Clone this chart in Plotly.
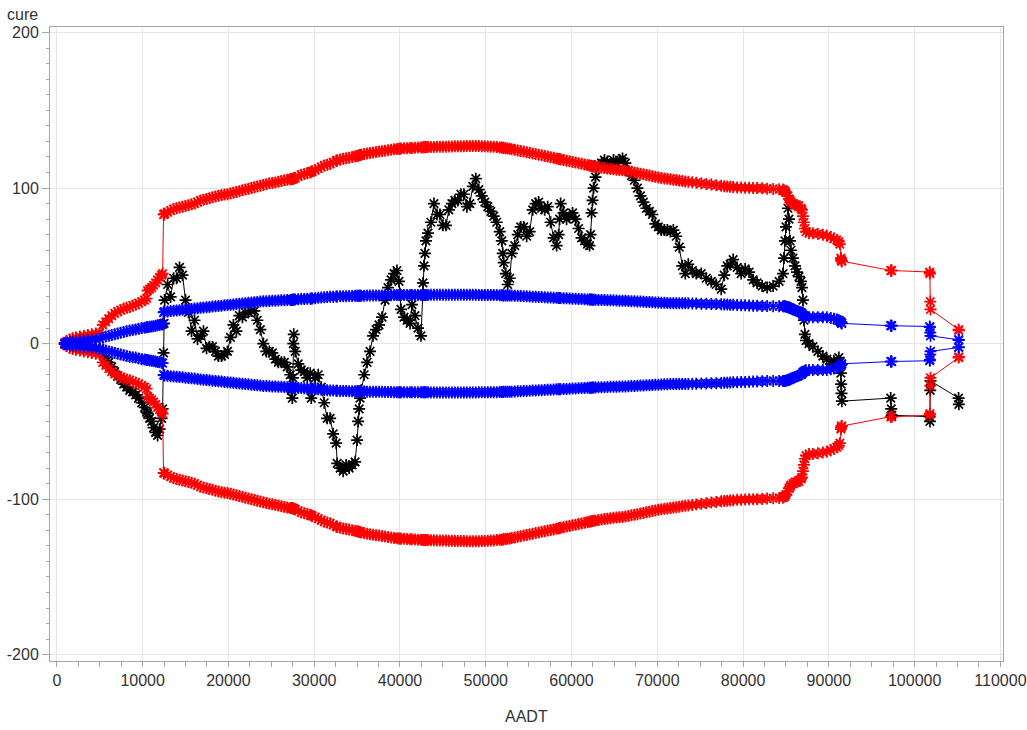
import plotly.graph_objects as go

# Site AADT values (sorted), cumulative residuals and the two limit pairs at each site
aadt = [
    930, 1160, 1510, 1860, 2210, 2670, 3140, 3600, 4070, 4530,
    5000, 5350, 5700, 6050, 6400, 6740, 7090, 7440, 7790, 8140,
    8490, 8840, 9190, 9530, 9880, 10230, 10470, 10580, 10810, 11050,
    11280, 11510, 11740, 11980, 12210, 12330,
    12440, 12500,
    12560, 12910, 13260, 13610, 13960, 14300, 14650, 15000, 15350, 15700,
    16050, 16400, 16750, 17090, 17450, 17790, 18140, 18490, 18840, 19190,
    19540, 19890, 20240, 20580, 20930, 21280, 21630, 21980, 22330, 22680,
    23030, 23370, 23720, 24070, 24420, 24770, 25120, 25470, 25820, 26170,
    26520, 26860, 27210, 27330, 27450, 27510, 27560, 27620, 27790, 28140,
    28490, 28840, 29190, 29540, 29660, 29770, 30120, 30470, 30820, 31170,
    31510, 31860, 32210, 32560, 32680, 33030, 33380, 33720, 34070, 34420,
    34770, 35000, 35120, 35240, 35350, 35470, 35820, 36160, 36510, 36860,
    37210, 37560, 37910, 38260, 38610, 38960, 39310, 39650, 39890, 40000,
    40120, 40470, 40820, 41170, 41400, 41750, 42100, 42450, 42680, 42800,
    42910, 43030, 43260, 43610, 43960, 44310, 44660, 45010, 45360, 45700,
    46050, 46400, 46750, 47100, 47450, 47800, 48150, 48490, 48840, 49190,
    49540, 49890, 50240, 50590, 50930, 51280, 51630, 51870, 51980, 52100,
    52330, 52560, 52800, 53030, 53380, 53730, 54070, 54420, 54770, 55120,
    55470, 55820, 56170, 56520, 56870, 57220, 57560, 57910, 58260, 58500,
    58610, 58730, 59080, 59420, 59770, 60120, 60470, 60820, 61170, 61510,
    61860, 62100, 62220, 62330, 62450, 62570, 62800, 63140, 63490, 63840,
    64190, 64540, 64890, 65240, 65590, 65940, 66280, 66630, 66980, 67330,
    67680, 68030, 68380, 68730, 69080, 69420, 69770, 70120, 70470, 70820,
    71170, 71520, 71870, 72210, 72560, 72910, 73260, 73610, 74080, 74540,
    75120, 75700, 76290, 76870, 77450, 77800, 78150, 78490, 78840, 79310,
    79770, 80240, 80700, 81170, 81630, 82220, 82800, 83500, 84200, 84650,
    84770, 84880, 85000, 85230, 85350, 85470, 85580, 85810, 86050, 86280,
    86510, 86750, 86860, 86980, 87090, 87210, 87330, 87680, 88140, 88720,
    89300, 89760, 90230, 90580, 90930, 91160, 91280, 91400, 91430, 91470,
    91510, 97210, 97270, 97330, 101750, 101780, 101820, 101850, 105120, 105150,
]

cure = [
    0, 0.5, 0, -0.5, 0, -1, -1.5, -2, -2, -3,
    -4, -6, -9, -12, -15, -18, -21, -23, -26, -28,
    -30, -31, -33, -35, -38, -41, -44, -45, -48, -50,
    -54, -57, -59, -55, -48, -42,
    -6, 13,
    28, 38, 30, 42, 42, 49, 44, 28, 20, 8,
    15, 3, 5, 8, -3, -2, -2, -5, -8, -8,
    -7, -5, 4, 12, 8, 18, 17, 20, 20, 21,
    21, 15, 9, 0, -5, -5, -6, -10, -12, -12,
    -12, -15, -20, -30, -35, -22, 0, 6, -5, -13,
    -17, -18, -22, -19, -35, -30, -22, -20, -28, -38,
    -48, -48, -58, -64, -77, -80, -82, -78, -80, -78,
    -76, -62, -50, -42, -35, -30, -20, -12, -5, 5,
    9, 12, 17, 28, 36, 41, 45, 47, 40, 32,
    22, 17, 15, 13, 25, 18, 10, 5, 39, 50,
    58, 66, 71, 78, 90, 83, 83, 76, 76, 86,
    90, 92, 92, 96, 96, 88, 90, 101, 106, 99,
    95, 91, 88, 85, 82, 78, 72, 66, 58, 52,
    45, 38, 42, 58, 63, 70, 75, 75, 69, 72,
    86, 90, 91, 87, 86, 88, 78, 68, 63, 70,
    80, 90, 84, 80, 82, 84, 80, 74, 68, 66,
    64, 63, 70, 84, 92, 100, 107, 115, 116, 118,
    117, 115, 118, 116, 118, 119, 116, 111, 108, 105,
    100, 95, 91, 87, 85, 83, 77, 75, 73, 73,
    73, 72, 73, 69, 62, 50, 45, 51, 47, 45,
    45, 42, 40, 38, 35, 44, 50, 51, 54, 49,
    45, 48, 46, 41, 39, 37, 36, 37, 40, 45,
    55, 66, 75, 87, 80, 66, 60, 55, 50, 46,
    43, 40, 36, 28, 15, 6, 2, 0, -2, -5,
    -8, -10, -13, -11, -14, -9, -12, -19, -26, -32,
    -37, -35, -42, -46, -47, -50, -30, -24, -35, -39,
]

# Outer limit (red), upper side; the lower side is its mirror
limit_outer = [
    0.5, 1.5, 2.5, 3.5, 4, 4.5, 5, 5.5, 6, 6.5,
    7, 12, 14, 16, 18, 19.5, 20.5, 21.5, 22.5, 23,
    23.5, 24.5, 25, 26, 27, 28, 29, 34, 35, 36,
    37.5, 39, 41, 42.5, 44, 45,
    83, 83,
    83.5, 84.5, 85.5, 86.5, 87, 87.5, 88, 88.5, 89, 89.5,
    90, 91, 92, 92.5, 93, 93.5, 94, 94.5, 95, 95.5,
    95.8, 96, 96.5, 97, 97.5, 98, 98.5, 99, 99.5, 100,
    100.5, 101, 101.5, 102, 102.5, 103, 103.3, 103.6, 104, 104.5,
    105, 105.3, 105.6, 105.7, 105.8, 105.9, 106, 106.1, 106.5, 107.5,
    108.5, 109, 109.5, 110, 110.5, 110.8, 111.5, 112.5, 113.5, 114.5,
    115, 115.5, 116.5, 117.5, 117.8, 118.3, 118.8, 119.2, 119.5, 120,
    120.3, 120.6, 120.8, 121, 121.2, 121.4, 121.8, 122.2, 122.5, 122.8,
    123.1, 123.4, 123.7, 124, 124.3, 124.6, 124.9, 125.1, 125.2, 125.3,
    125.4, 125.5, 125.6, 125.7, 125.8, 125.9, 126, 126.1, 126.2, 126.2,
    126.3, 126.3, 126.3, 126.4, 126.4, 126.5, 126.5, 126.6, 126.6, 126.7,
    126.7, 126.8, 126.8, 126.9, 126.9, 127, 127, 127, 127, 127,
    126.9, 126.8, 126.7, 126.6, 126.5, 126.3, 126.1, 126, 125.9, 125.8,
    125.6, 125.4, 125.2, 125, 124.6, 124.2, 123.8, 123.4, 123, 122.6,
    122.2, 121.8, 121.4, 121, 120.6, 120.2, 119.8, 119.4, 119, 118.7,
    118.6, 118.4, 118, 117.6, 117.2, 116.8, 116.4, 116, 115.6, 115.2,
    114.8, 114.5, 114.3, 114.2, 114, 113.9, 113.7, 113.4, 113.1, 112.8,
    112.5, 112.2, 112, 111.8, 111.6, 111.4, 111.2, 110.8, 110.4, 110,
    109.6, 109.2, 108.8, 108.4, 108, 107.6, 107.2, 106.8, 106.5, 106.2,
    106, 105.7, 105.4, 105.1, 104.8, 104.5, 104.2, 104, 103.7, 103.4,
    103, 102.6, 102.2, 101.8, 101.4, 101.2, 101, 100.8, 100.6, 100.4,
    100.3, 100.2, 100.1, 100, 100, 99.8, 99.6, 99.4, 99.2, 99,
    98.5, 98, 97, 95, 93, 92, 91, 90, 89, 89,
    88.5, 87, 86, 82, 78, 74, 72, 71, 71, 70.5,
    70, 69.5, 68.5, 67.5, 66.5, 65.5, 64, 55, 54, 53,
    53, 47, 47, 47, 46, 45, 27, 22, 9, 8.5,
]

# Inner limit (blue), upper side; the lower side is its mirror
limit_inner = [
    0.3, 0.6, 1.0, 1.2, 1.5, 1.8, 2, 2.2, 2.5, 2.8,
    3, 4, 4.5, 5, 5.5, 6, 6.5, 7, 7.5, 8,
    8.5, 8.8, 9, 9.5, 10, 10.2, 10.5, 10.6, 10.8, 11,
    11.2, 11.5, 11.8, 12, 12.3, 12.5,
    20, 20.3,
    20.5, 20.7, 20.9, 21.1, 21.3, 21.5, 21.7, 21.9, 22.1, 22.3,
    22.5, 22.8, 23, 23.2, 23.4, 23.6, 23.8, 24, 24.2, 24.4,
    24.6, 24.8, 25, 25.2, 25.4, 25.6, 25.8, 26, 26.2, 26.4,
    26.6, 26.8, 27, 27.2, 27.3, 27.4, 27.5, 27.6, 27.7, 27.8,
    27.9, 28, 28.1, 28.1, 28.2, 28.2, 28.2, 28.3, 28.3, 28.5,
    28.6, 28.7, 28.8, 28.9, 29, 29, 29.2, 29.4, 29.6, 29.8,
    30, 30.1, 30.2, 30.3, 30.3, 30.4, 30.5, 30.5, 30.6, 30.6,
    30.7, 30.7, 30.7, 30.7, 30.8, 30.8, 30.8, 30.9, 30.9, 31,
    31, 31, 31, 31.1, 31.1, 31.1, 31.2, 31.2, 31.2, 31.2,
    31.2, 31.2, 31.3, 31.3, 31.3, 31.3, 31.3, 31.3, 31.3, 31.3,
    31.3, 31.3, 31.3, 31.4, 31.4, 31.4, 31.4, 31.4, 31.4, 31.4,
    31.4, 31.4, 31.4, 31.4, 31.4, 31.4, 31.4, 31.4, 31.4, 31.3,
    31.3, 31.3, 31.3, 31.2, 31.2, 31.2, 31.1, 31.1, 31.1, 31,
    31, 31, 30.9, 30.9, 30.8, 30.7, 30.6, 30.5, 30.4, 30.3,
    30.2, 30.1, 30, 29.9, 29.8, 29.7, 29.6, 29.5, 29.4, 29.3,
    29.3, 29.3, 29.2, 29.1, 29, 28.9, 28.8, 28.7, 28.6, 28.5,
    28.4, 28.3, 28.3, 28.3, 28.2, 28.2, 28.2, 28.1, 28, 28,
    27.9, 27.8, 27.8, 27.7, 27.6, 27.6, 27.5, 27.4, 27.3, 27.2,
    27.1, 27, 26.9, 26.8, 26.7, 26.6, 26.5, 26.4, 26.3, 26.2,
    26.1, 26, 26, 26, 26, 25.9, 25.9, 25.9, 25.8, 25.8,
    25.7, 25.6, 25.5, 25.4, 25.3, 25.2, 25.1, 25, 24.9, 24.8,
    24.7, 24.6, 24.5, 24.4, 24.3, 24.2, 24.1, 24, 24, 24,
    24, 24, 23.8, 23.5, 23.2, 23, 22.5, 22, 21.5, 21,
    20.5, 20, 19.5, 18.5, 18, 17.5, 17.2, 17, 17, 17,
    17, 17, 16.5, 16, 15.5, 15, 14.5, 14, 13.5, 13.2,
    13, 11.5, 11.5, 11.5, 11, 10.5, 7, 5, 2.5, 2.3,
]

assert len(aadt) == len(cure) == len(limit_outer) == len(limit_inner), (
    len(aadt), len(cure), len(limit_outer), len(limit_inner))

x_ticks = list(range(0, 110001, 10000))
y_ticks = [-200, -100, 0, 100, 200]

FONT = "Liberation Sans, Arial, sans-serif"
TEXT = "#333333"
AXIS = "#a6a6a6"
GRID = "#e6e6e6"


def series(y, color):
    return go.Scatter(
        x=aadt, y=y, mode="lines+markers",
        line=dict(color=color, width=1),
        marker=dict(symbol="asterisk-open", size=10,
                    line=dict(color=color, width=1.7)),
        showlegend=False, hoverinfo="x+y",
    )


fig = go.Figure()
fig.add_trace(series(cure, "#000000"))
fig.add_trace(series(limit_outer, "#ff0000"))
fig.add_trace(series([-v for v in limit_outer], "#ff0000"))
fig.add_trace(series(limit_inner, "#0000ff"))
fig.add_trace(series([-v for v in limit_inner], "#0000ff"))

fig.update_layout(
    width=1027, height=730,
    margin=dict(l=50, r=24, t=27, b=69),
    paper_bgcolor="white", plot_bgcolor="white",
    font=dict(family=FONT, size=16, color=TEXT),
    xaxis=dict(
        range=[-800, 110300], tickvals=x_ticks,
        ticktext=[str(v) for v in x_ticks],
        automargin=False, ticklabeloverflow="allow",
        showgrid=True, gridcolor=GRID, gridwidth=1, zeroline=False,
        showline=True, linecolor=AXIS, linewidth=1, mirror=True,
        ticks="outside", ticklen=5, tickcolor=AXIS,
        minor=dict(dtick=2500, tick0=0, ticks="outside", ticklen=5,
                   tickcolor=AXIS, showgrid=False),
        tickfont=dict(size=16, color=TEXT),
    ),
    yaxis=dict(
        range=[-204, 203.5], tickvals=y_ticks,
        ticktext=[str(v) for v in y_ticks],
        automargin=False, ticklabeloverflow="allow",
        showgrid=True, gridcolor=GRID, gridwidth=1, zeroline=False,
        showline=True, linecolor=AXIS, linewidth=1, mirror=True,
        ticks="outside", ticklen=7, tickcolor=AXIS,
        minor=dict(dtick=10, tick0=0, ticks="outside", ticklen=3,
                   tickcolor=AXIS, showgrid=False),
        tickfont=dict(size=16, color=TEXT),
    ),
    annotations=[
        dict(text="cure", xref="paper", yref="paper", x=-0.0105, y=1.019,
             xanchor="right", yanchor="middle", showarrow=False,
             font=dict(size=16, color=TEXT)),
        dict(text="AADT", xref="paper", yref="paper", x=0.5, y=-0.087,
             xanchor="center", yanchor="middle", showarrow=False,
             font=dict(size=16, color=TEXT)),
    ],
)

fig.write_html("out.html")
